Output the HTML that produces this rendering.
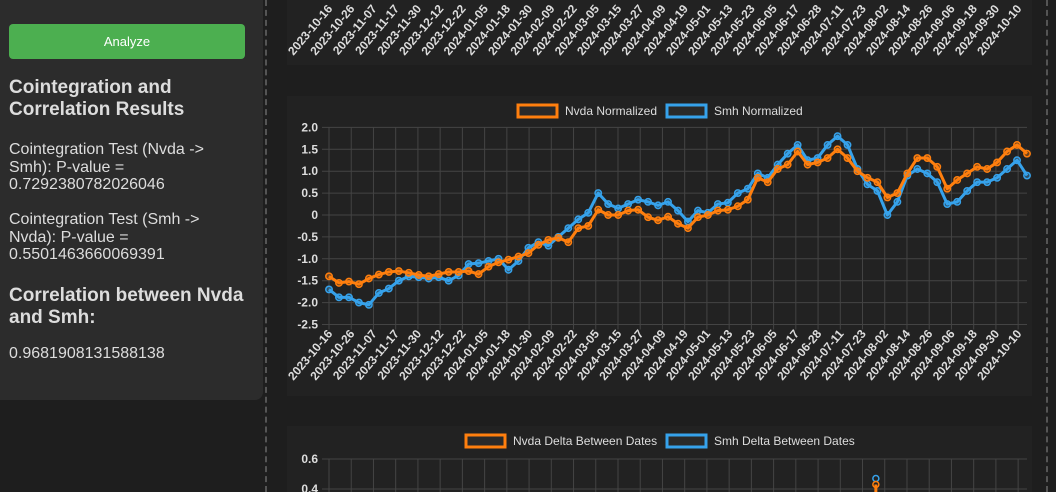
<!DOCTYPE html>
<html><head><meta charset="utf-8">
<style>
html,body{margin:0;padding:0;background:#1e1e1e;width:1056px;height:492px;overflow:hidden;font-family:"Liberation Sans",Arial,sans-serif;}
#side{position:absolute;left:0;top:0;width:263px;height:400px;background:#2c2c2c;border-bottom-right-radius:8px;color:#ddd;}
#btn{position:absolute;left:9px;top:24px;width:236px;height:35px;background:#4caf50;border-radius:4px;color:#fff;font-size:13px;line-height:35px;text-align:center;}
.h{position:absolute;left:9px;font-weight:bold;font-size:19px;line-height:22px;color:#ddd;margin:0;white-space:nowrap;}
.p{position:absolute;left:9px;font-size:16px;line-height:17.5px;color:#ddd;margin:0;white-space:nowrap;}
.dash{position:absolute;top:0;height:492px;border-left:2px dashed #555;}
svg{position:absolute;left:0;top:0;}
</style></head><body>
<div id="side">
  <div id="btn">Analyze</div>
  <h3 class="h" style="top:77px">Cointegration and<br>Correlation Results</h3>
  <p class="p" style="top:141px">Cointegration Test (Nvda -&gt;<br>Smh): P-value =<br>0.7292380782026046</p>
  <p class="p" style="top:211px">Cointegration Test (Smh -&gt;<br>Nvda): P-value =<br>0.5501463660069391</p>
  <h3 class="h" style="top:285px">Correlation between Nvda<br>and Smh:</h3>
  <p class="p" style="top:345px">0.9681908131588138</p>
</div>
<div class="dash" style="left:265px"></div>
<div class="dash" style="left:1046px"></div>
<svg id="chart" width="1056" height="492"></svg>
<script>
const dates=["2023-10-16","2023-10-26","2023-11-07","2023-11-17","2023-11-30","2023-12-12","2023-12-22","2024-01-05","2024-01-18","2024-01-30","2024-02-09","2024-02-22","2024-03-05","2024-03-15","2024-03-27","2024-04-09","2024-04-19","2024-05-01","2024-05-13","2024-05-23","2024-06-05","2024-06-17","2024-06-28","2024-07-11","2024-07-23","2024-08-02","2024-08-14","2024-08-26","2024-09-06","2024-09-18","2024-09-30","2024-10-10"];
const yTicks=[2.0,1.5,1.0,0.5,0,-0.5,-1.0,-1.5,-2.0,-2.5];
const nvda=[-1.4,-1.55,-1.52,-1.58,-1.45,-1.36,-1.3,-1.28,-1.32,-1.37,-1.4,-1.35,-1.3,-1.3,-1.28,-1.35,-1.18,-1.08,-1.02,-0.95,-0.87,-0.68,-0.57,-0.52,-0.62,-0.3,-0.25,0.12,0.0,0.0,0.1,0.12,-0.05,-0.12,-0.04,-0.2,-0.3,-0.05,0.0,0.1,0.12,0.2,0.35,0.85,0.75,1.05,1.15,1.45,1.15,1.2,1.3,1.5,1.3,1.0,0.85,0.75,0.4,0.5,0.95,1.3,1.3,1.1,0.6,0.8,0.95,1.1,1.05,1.2,1.45,1.6,1.4];
const smh=[-1.7,-1.88,-1.88,-2.0,-2.05,-1.78,-1.68,-1.5,-1.4,-1.42,-1.45,-1.42,-1.5,-1.38,-1.12,-1.1,-1.05,-1.0,-1.25,-1.05,-0.75,-0.62,-0.7,-0.5,-0.3,-0.1,0.05,0.5,0.25,0.15,0.25,0.35,0.3,0.22,0.3,0.1,-0.15,0.1,0.05,0.25,0.28,0.5,0.6,0.95,0.85,1.15,1.4,1.6,1.25,1.3,1.6,1.8,1.6,1.05,0.7,0.55,0.0,0.3,0.9,1.05,0.95,0.75,0.25,0.3,0.55,0.75,0.75,0.85,1.05,1.25,0.9];
const deltaTicks=[0.6,0.4];
const deltaSpikeIndex=24.6;
const nvdaSpike=0.43;
const smhSpike=0.47;

const NS="http://www.w3.org/2000/svg";
const svg=document.getElementById('chart');
function mk(tag,attrs,parent){const e=document.createElementNS(NS,tag);for(const k in attrs)e.setAttribute(k,attrs[k]);(parent||svg).appendChild(e);return e;}
const X0=329,X1=1027,TICK_STEP=22.23;
const xTick=i=>X0+i*TICK_STEP;
const xData=i=>X0+i*(X1-X0)/(nvda.length-1);
const yMid=v=>215-v*43.8;

let c=mk('rect',{x:287,y:0,width:745,height:65,fill:'#222'});


function xLabels(yEnd,name){
  const g=mk('g',{});
  
  
  dates.forEach((d,i)=>{
    const x=xTick(i)+4;
    const t=mk('text',{x:x,y:yEnd,'text-anchor':'end',fill:'#ddd','font-size':'12','font-weight':'bold',transform:`rotate(-50 ${x} ${yEnd})`},g);
    t.textContent=d;
    
    
  });
}
xLabels(9,'top-x-axis-labels');

c=mk('rect',{x:287,y:96,width:745,height:300,fill:'#222'});


const grid=mk('g',{stroke:'#444','stroke-width':1});


yTicks.forEach(v=>{
  mk('line',{x1:322,x2:X1,y1:yMid(v),y2:yMid(v)},grid);
  const t=mk('text',{x:318,y:yMid(v)+4,'text-anchor':'end',fill:'#ddd','font-size':'12','font-weight':'bold',stroke:'none'});
  t.textContent=(v===0?'0':v.toFixed(1));
  
  
});
dates.forEach((d,i)=>mk('line',{x1:xTick(i),x2:xTick(i),y1:yMid(yTicks[0]),y2:yMid(yTicks[yTicks.length-1])+5},grid));
xLabels(334,'middle-x-axis-labels');

function series(vals,color,name){
  const g=mk('g',{});
  
  
  const pts=vals.map((v,i)=>xData(i)+','+yMid(v)).join(' ');
  mk('polyline',{points:pts,fill:'none',stroke:color,'stroke-width':3,'stroke-linejoin':'round'},g);
  vals.forEach((v,i)=>{
    const p=mk('circle',{cx:xData(i),cy:yMid(v),r:3.2,fill:color,'fill-opacity':0.35,stroke:color,'stroke-width':1.5},g);
    
    
  });
}
series(smh,'#36a2eb','smh-normalized-series');
series(nvda,'#ff7f0e','nvda-normalized-series');

function legend(x,y,color,label,name){
  const g=mk('g',{});
  
  
  mk('rect',{x:x,y:y,width:39,height:12,fill:'#2a2a2a',stroke:color,'stroke-width':3},g);
  const t=mk('text',{x:x+47,y:y+10,fill:'#ddd','font-size':'12'},g);
  t.textContent=label;
}
legend(518,105,'#ff7f0e','Nvda Normalized','legend-nvda-normalized');
legend(667,105,'#36a2eb','Smh Normalized','legend-smh-normalized');

c=mk('rect',{x:287,y:426,width:745,height:70,fill:'#222'});


legend(466,435,'#ff7f0e','Nvda Delta Between Dates','legend-nvda-delta');
legend(667,435,'#36a2eb','Smh Delta Between Dates','legend-smh-delta');
const yBot=v=>459+(0.6-v)*150;
const g2=mk('g',{stroke:'#444','stroke-width':1});


deltaTicks.forEach(v=>{
  mk('line',{x1:322,x2:X1,y1:yBot(v),y2:yBot(v)},g2);
  const t=mk('text',{x:318,y:yBot(v)+4,'text-anchor':'end',fill:'#ddd','font-size':'12','font-weight':'bold',stroke:'none'});
  t.textContent=v.toFixed(1);
  
  
});
dates.forEach((d,i)=>mk('line',{x1:xTick(i),x2:xTick(i),y1:459,y2:492},g2));
const sx=xTick(deltaSpikeIndex);
mk('line',{x1:sx,x2:sx,y1:yBot(nvdaSpike),y2:492,stroke:'#ff7f0e','stroke-width':3});
let p=mk('circle',{cx:sx,cy:yBot(smhSpike),r:3,fill:'none',stroke:'#36a2eb','stroke-width':1.5});


p=mk('circle',{cx:sx,cy:yBot(nvdaSpike),r:3,fill:'none',stroke:'#ff7f0e','stroke-width':1.5});


</script>
</body></html>
